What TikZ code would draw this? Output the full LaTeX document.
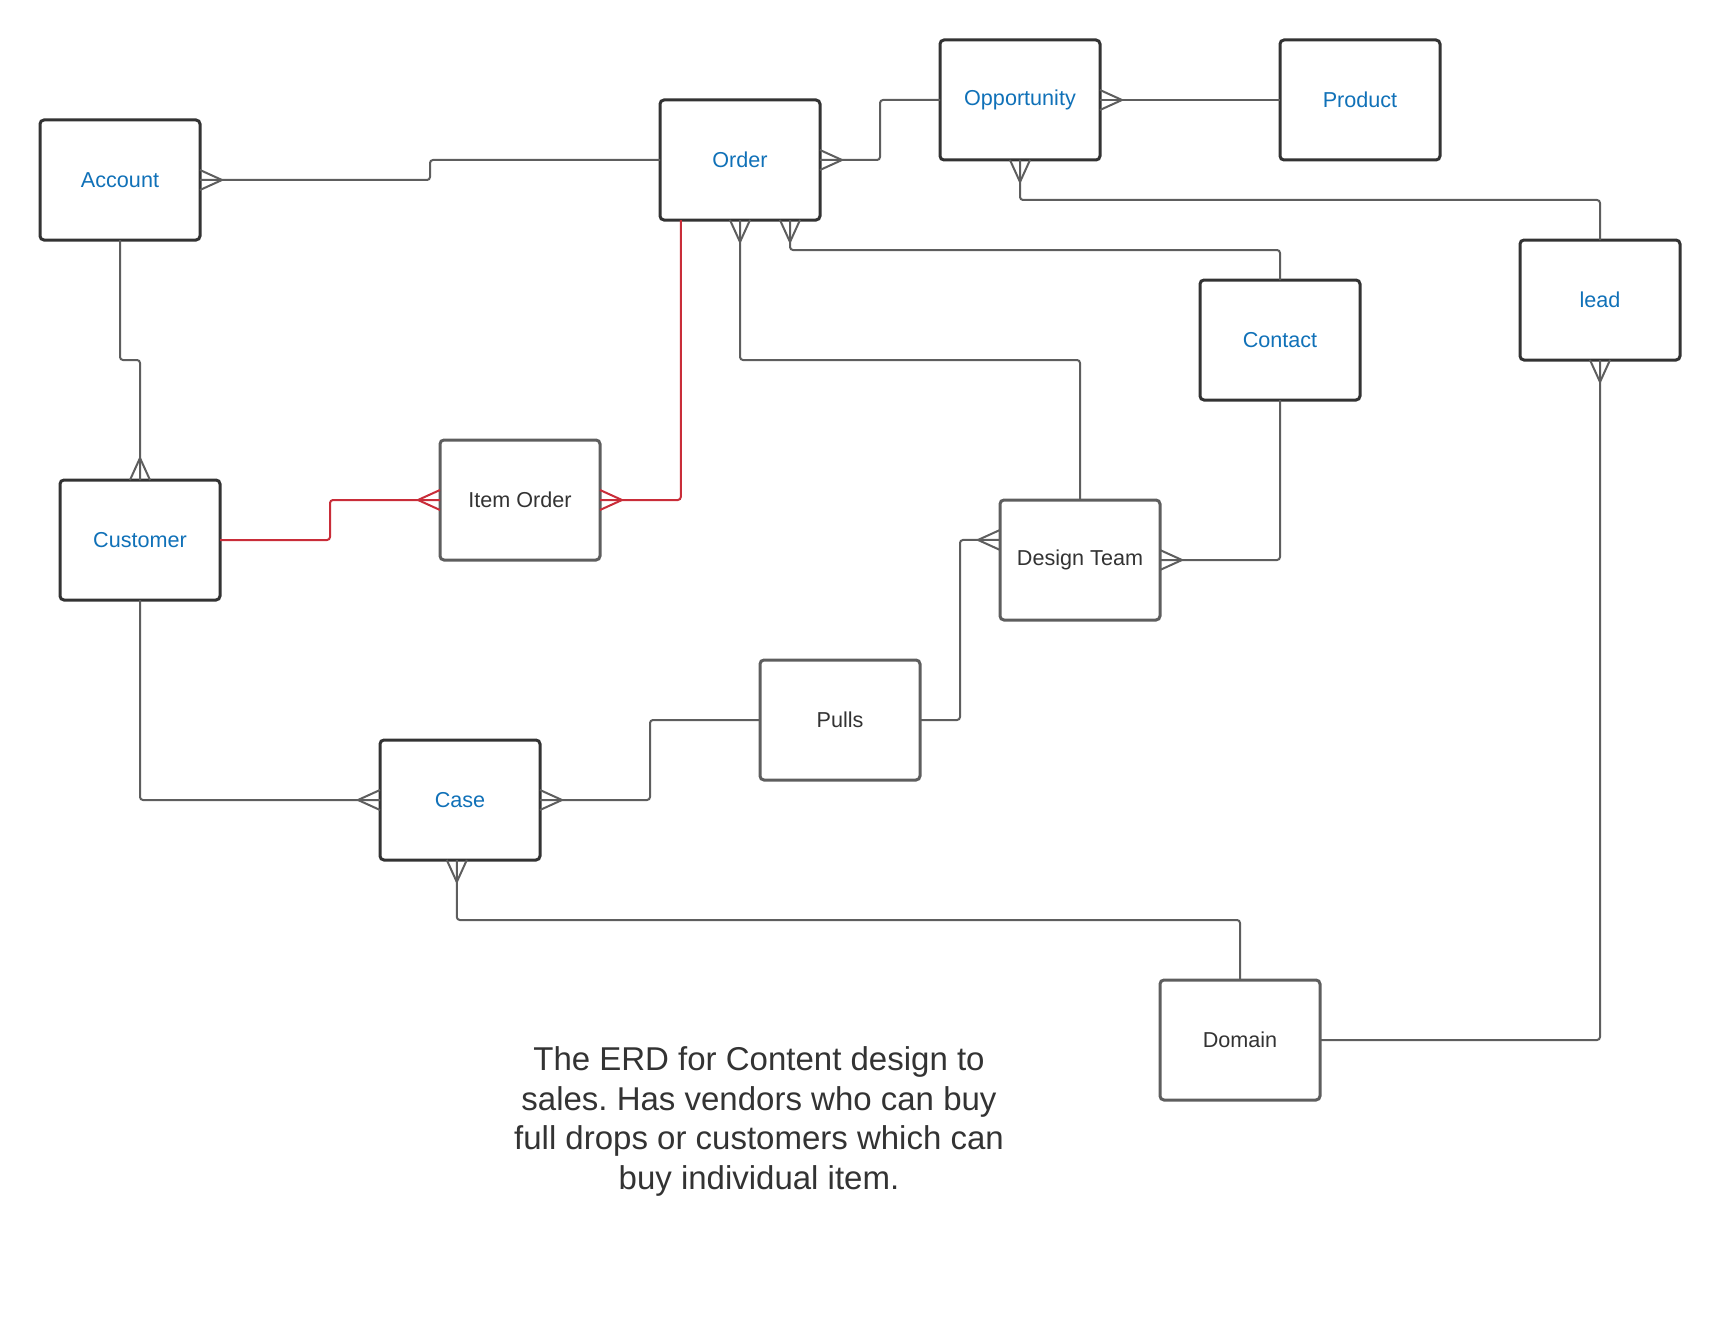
\documentclass[tikz,border=0pt]{standalone}
\usepackage{fontspec}
\setmainfont{Liberation Sans}
\usetikzlibrary{positioning,calc}
\definecolor{entColor}{HTML}{1071B8}
\definecolor{boxColor}{HTML}{333333}
\definecolor{relColor}{HTML}{5E5E5E}
\definecolor{redColor}{HTML}{C92D39}
\newcommand{\entfont}{\fontsize{10.8pt}{13pt}\selectfont}
\newcommand{\notefont}{\fontsize{16.5pt}{19.75pt}\selectfont\frenchspacing}
\tikzset{
	crow/.pic={\draw[line join=round] (0,.5) -- (1.1,0) -- (0,-.5);},
	ent/.style={draw=boxColor, line width=1.5pt, rounded corners=2pt, fill=white,
		minimum width=80pt, minimum height=60pt, outer sep=0, text=entColor, font=\entfont},
	wk/.style={ent, draw=relColor, text=boxColor},
	rel/.style={draw=relColor, line width=1pt, rounded corners=1.5pt},
	redrel/.style={rel, draw=redColor},
	toe/.style={color=relColor, line width=1pt},
	redtoe/.style={toe, color=redColor}
}

\begin{document}
\begin{tikzpicture}[x=10pt, y=10pt]
	\useasboundingbox (0,0) rectangle (86,-66.1);
	\node[ent] (acc) at (6, -9) {Account};
	\node[ent] (ord) at (37, -8) {Order};
	\node[ent] (opp) at (51, -5) {Opportunity};
	\node[ent] (prod) at (68, -5) {Product};
	\node[ent] (lead) at (80, -15) {lead};
	\node[ent] (con) at (64, -17) {Contact};
	\node[ent] (cus) at (7, -27) {Customer};
	\node[wk] (io) at (26, -25) {Item Order};
	\node[wk] (dt) at (54, -28) {Design Team};
	\node[wk] (pul) at (42, -36) {Pulls};
	\node[ent] (case) at (23, -40) {Case};
	\node[wk] (dom) at (62, -52) {Domain};
	
	\path (ord.south west) -- (ord.south east) coordinate[pos=0.13] (ordr) coordinate[pos=0.8125] (ordc);
	\path (case.south west) -- (case.south east) coordinate[pos=0.48] (casec);
	\path (dt.north west) -- (dt.south west) coordinate[pos=0.333] (dtw);
	
	\draw[rel] (acc.east) -- ++(11.5,0) |- (ord.west);
	\draw[rel] (ord.east) -- ++(3,0) |- (opp.west);
	\draw[rel] (opp.east) -- (prod.west);
	\draw[rel] (opp.south) -- ++(0,-2) -| (lead.north);
	\draw[rel] (ord.south) -- ++(0,-7) -| (dt.north);
	\draw[rel] (ordc) -- ++(0,-1.5) -| (con.north);
	\draw[redrel] (ordr) |- (io.east);
	\draw[redrel] (cus.east) -- ++(5.5,0) |- (io.west);
	\draw[rel] (acc.south) -- ++(0,-6) -| (cus.north);
	\draw[rel] (cus.south) |- (case.west);
	\draw[rel] (case.east) -- ++(5.5,0) |- (pul.west);
	\draw[rel] (pul.east) -- ++(2,0) |- (dtw);
	\draw[rel] (con.south) |- (dt.east);
	\draw[rel] (casec) -- ++(0,-3) -| (dom.north);
	\draw[rel] (dom.east) -| (lead.south);
	
	% many-sides
	\pic[toe] at (acc.east) {crow};
	\pic[toe] at (ord.east) {crow};
	\pic[toe] at (opp.east) {crow};
	\pic[toe, rotate=-90] at (opp.south) {crow};
	\pic[toe, rotate=-90] at (ord.south) {crow};
	\pic[toe, rotate=-90] at (ordc) {crow};
	\pic[redtoe] at (io.east) {crow};
	\pic[redtoe, rotate=180] at (io.west) {crow};
	\pic[toe, rotate=90] at (cus.north) {crow};
	\pic[toe, rotate=180] at (case.west) {crow};
	\pic[toe] at (case.east) {crow};
	\pic[toe, rotate=-90] at (casec) {crow};
	\pic[toe, rotate=180] at (dtw) {crow};
	\pic[toe] at (dt.east) {crow};
	\pic[toe, rotate=-90] at (lead.south) {crow};
	
	\node[align=center, font=\notefont, text=boxColor] (note) at (37.95, -56.07) {The ERD for Content design to\\ sales. Has vendors who can buy\\ full drops or customers which can\\ buy individual item.};
\end{tikzpicture}
\end{document}
